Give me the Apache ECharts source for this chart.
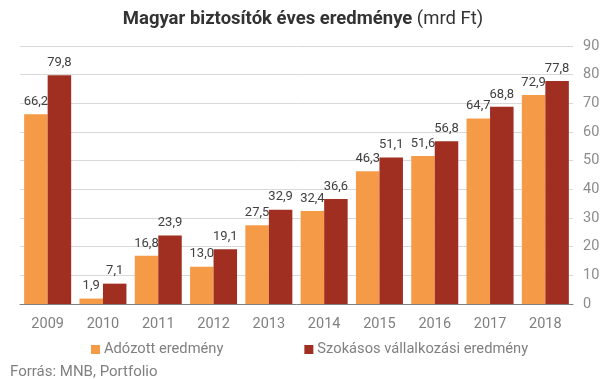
<!DOCTYPE html>
<html><head><meta charset="utf-8">
<script src="https://cdn.jsdelivr.net/npm/echarts@6/dist/echarts.min.js"></script>
<style>html,body{margin:0;padding:0;background:#fff}#c{width:606px;height:379px}</style>
</head><body><div id="c"></div>
<script>
const categories = ['2009','2010','2011','2012','2013','2014','2015','2016','2017','2018'];
const adozott = [66.2, 1.9, 16.8, 13.0, 27.5, 32.4, 46.3, 51.6, 64.7, 72.9];
const szokasos = [79.8, 7.1, 23.9, 19.1, 32.9, 36.6, 51.1, 56.8, 68.8, 77.8];
const yTicks = [0,10,20,30,40,50,60,70,80,90];
const seriesNames = ['Adózott eredmény', 'Szokásos vállalkozási eredmény'];

const fmt = p => p.value.toFixed(1).replace('.', ',');
const chart = echarts.init(document.getElementById('c'), null, {renderer:'canvas'});
const font = 'Roboto, "Noto Sans", sans-serif';
chart.setOption({
  animation: false,
  textStyle: {fontFamily: font},
  title: [{
    text: '{b|Magyar biztosítók éves eredménye} {n|(mrd Ft)}',
    left: 'center', top: 5,
    textStyle: {rich: {
      b: {fontFamily: font, fontWeight: 'bold', fontSize: 18.5, color: '#333'},
      n: {fontFamily: font, fontWeight: 'normal', fontSize: 18.5, color: '#333'}
    }}
  }, {
    text: 'Forrás: MNB, Portfolio', left: 5, top: 360,
    textStyle: {fontFamily: font, fontWeight: 'normal', fontSize: 15, color: '#808080'}
  }],
  legend: {
    data: seriesNames, top: 337, left: 86, itemGap: 81,
    itemWidth: 9, itemHeight: 9, icon: 'rect',
    textStyle: {fontFamily: font, fontSize: 14.7, color: '#808080', padding: [0,0,0,-1]}
  },
  grid: {left: 20, right: 33, top: 46, bottom: 75},
  xAxis: {
    type: 'category', data: categories,
    axisLine: {lineStyle: {color: '#808080', width: 1}},
    axisTick: {show: false},
    axisLabel: {fontSize: 14.5, color: '#808080', margin: 13}
  },
  yAxis: {
    type: 'value', position: 'right', min: 0, max: 90, interval: 10,
    axisLine: {show: false}, axisTick: {show: false},
    axisLabel: {fontSize: 14.5, color: '#8c8c8c', margin: 10,
      formatter: v => yTicks.includes(v) ? String(v) : ''},
    splitLine: {lineStyle: {color: '#d9d9d9', width: 1}}
  },
  series: [{
    name: seriesNames[0], type: 'bar', data: adozott,
    barGap: '0%', barCategoryGap: '15%',
    itemStyle: {color: '#F59B47'},
    label: {show: true, position: 'top', formatter: fmt, fontSize: 13, color: '#404040', distance: 6}
  }, {
    name: seriesNames[1], type: 'bar', data: szokasos,
    itemStyle: {color: '#A02F22'},
    label: {show: true, position: 'top', formatter: fmt, fontSize: 13, color: '#404040', distance: 6}
  }]
});
</script></body></html>
